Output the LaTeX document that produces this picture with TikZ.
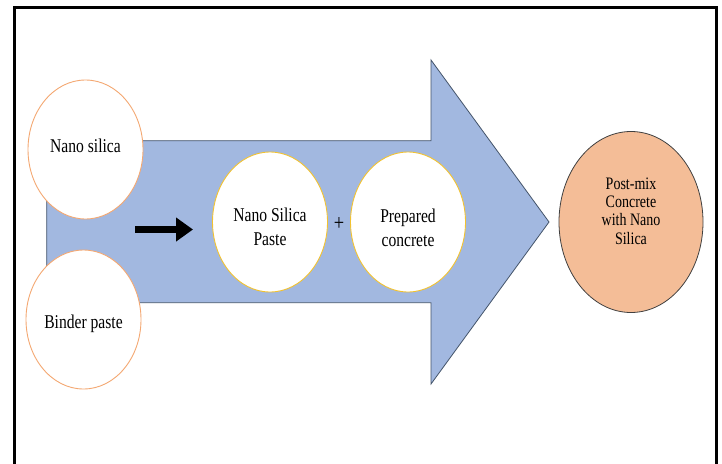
\documentclass[tikz,border=0pt]{standalone}
\usepackage{fontspec}
\setmainfont[FakeStretch=0.8]{Liberation Serif}
\usetikzlibrary{shapes.geometric,arrows.meta}
\definecolor{arrowblue}{HTML}{A2B8E0}
\definecolor{arrowline}{HTML}{44546A}
\definecolor{peachline}{HTML}{F4A872}
\definecolor{goldline}{HTML}{F2C230}
\definecolor{peachfill}{HTML}{F4BD97}
\tikzset{
  frame/.style={line width=3pt, draw=black},
  bigarrow/.style={fill=arrowblue, draw=arrowline, line width=0.8pt, line join=miter},
  oval/.style={ellipse, inner sep=0pt, fill=white, line width=0.9pt},
  inoval/.style={oval, draw=peachline, minimum width=115pt, minimum height=139pt},
  midoval/.style={oval, draw=goldline, minimum width=115pt, minimum height=140pt},
  outoval/.style={ellipse, inner sep=0pt, fill=peachfill, draw=black!75, line width=0.8pt, minimum width=144pt, minimum height=181pt},
  txt/.style={align=center, inner sep=0pt, font={\fontsize{19.5}{24}\selectfont}},
  smalltxt/.style={align=center, inner sep=0pt, font={\fontsize{17.5}{18.3}\selectfont}},
  flow/.style={line width=7pt, -{Triangle[length=17pt,width=23pt]}}
}
\begin{document}
\begin{tikzpicture}[x=1pt,y=-1pt]
\useasboundingbox (0,0) rectangle (722,463);
\fill[white] (0,0) rectangle (722,463);
\draw[frame] (14.5,475) -- (14.5,7.5) -- (716.5,7.5) -- (716.5,475);
% big arrow
\draw[bigarrow] (46.7,140.7) -- (431,140.7) -- (431,60) -- (549,222) -- (431,384) -- (431,302.7) -- (46.7,302.7) -- cycle;
% input ovals
\node[inoval] (ns) at (85.5,149.5) {};
\node[txt] (nst) at ([yshift=4pt]ns.center) {Nano silica};
\node[inoval] (bp) at (83.5,319.5) {};
\node[txt] (bpt) at ([yshift=-4pt]bp.center) {Binder paste};
% middle ovals
\node[midoval] (nsp) at (270,222) {};
\node[txt] (nspt) at ([yshift=-4.5pt]nsp.center) {Nano Silica\\Paste};
\node[midoval] (pc) at (408,222) {};
\node[txt] (pct) at ([yshift=-6pt]pc.center) {Prepared\\concrete};
\node[font={\fontsize{23}{24}\selectfont}, inner sep=0pt] (plus) at (339,224) {+};
% output oval
\node[outoval] (pm) at (631,222) {};
\node[smalltxt] (pmt) at ([yshift=11pt]pm.center) {Post-mix\\Concrete\\with Nano\\Silica};
% black arrow
\coordinate (fa) at (135,229.5);
\coordinate (fb) at (193,229.5);
\draw[flow] (fa) -- (fb);
\end{tikzpicture}
\end{document}
